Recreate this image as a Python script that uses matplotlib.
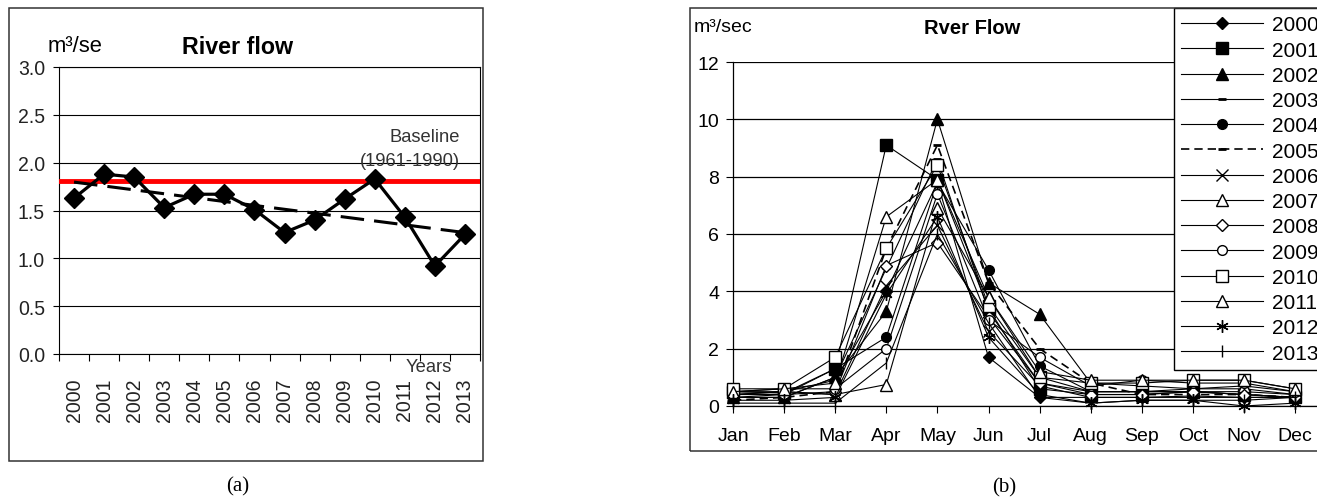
import numpy as np
import matplotlib
matplotlib.use("Agg")
import matplotlib.pyplot as plt
from matplotlib.patches import Rectangle
from matplotlib import font_manager

plt.rcParams['font.family'] = ['Liberation Sans', 'DejaVu Sans']

W, H = 1317, 502

# (a) annual river flow
years = ['2000', '2001', '2002', '2003', '2004', '2005', '2006',
         '2007', '2008', '2009', '2010', '2011', '2012', '2013']
annual_flow = [1.63, 1.88, 1.85, 1.53, 1.67, 1.67, 1.51,
               1.27, 1.40, 1.62, 1.83, 1.43, 0.92, 1.25]
baseline = 1.81

# (b) monthly river flow per year
months = ['Jan', 'Feb', 'Mar', 'Apr', 'May', 'Jun',
          'Jul', 'Aug', 'Sep', 'Oct', 'Nov', 'Dec']
flow_2000 = [0.4, 0.5, 0.9, 4.0, 7.8, 1.7, 0.3, 0.3, 0.3, 0.35, 0.3, 0.3]
flow_2001 = [0.5, 0.45, 1.3, 9.1, 7.9, 3.4, 0.6, 0.4, 0.4, 0.5, 0.4, 0.3]
flow_2002 = [0.3, 0.3, 1.0, 3.3, 10.0, 4.3, 3.2, 0.8, 0.7, 0.6, 0.6, 0.4]
flow_2003 = [0.3, 0.3, 1.0, 4.8, 8.6, 3.3, 0.8, 0.5, 0.5, 0.5, 0.5, 0.4]
flow_2004 = [0.3, 0.4, 1.3, 2.4, 7.8, 4.75, 1.4, 0.5, 0.5, 0.5, 0.4, 0.3]
flow_2005 = [0.2, 0.3, 0.5, 5.5, 9.1, 4.3, 2.0, 0.8, 0.4, 0.4, 0.4, 0.3]
flow_2006 = [0.4, 0.5, 0.4, 4.2, 6.3, 2.6, 0.7, 0.3, 0.3, 0.3, 0.3, 0.3]
flow_2007 = [0.5, 0.5, 0.4, 0.75, 6.9, 3.8, 1.0, 0.5, 0.5, 0.6, 0.7, 0.5]
flow_2008 = [0.4, 0.4, 0.5, 4.9, 5.7, 3.1, 0.8, 0.4, 0.4, 0.5, 0.4, 0.3]
flow_2009 = [0.5, 0.6, 0.6, 2.0, 7.4, 3.0, 1.7, 0.7, 0.9, 0.8, 0.8, 0.5]
flow_2010 = [0.6, 0.6, 1.7, 5.5, 8.4, 3.5, 1.0, 0.8, 0.8, 0.9, 0.9, 0.6]
flow_2011 = [0.5, 0.6, 0.8, 6.6, 7.9, 3.8, 1.2, 0.9, 0.9, 0.9, 0.9, 0.6]
flow_2012 = [0.2, 0.2, 0.3, 3.9, 6.6, 2.4, 0.4, 0.1, 0.2, 0.2, 0.0, 0.1]
flow_2013 = [0.1, 0.1, 0.1, 1.5, 6.0, 2.9, 0.3, 0.1, 0.2, 0.2, 0.2, 0.3]

monthly = [flow_2000, flow_2001, flow_2002, flow_2003, flow_2004, flow_2005, flow_2006,
           flow_2007, flow_2008, flow_2009, flow_2010, flow_2011, flow_2012, flow_2013]
styles = [
    dict(marker='D', mfc='black', ms=6),
    dict(marker='s', mfc='black', ms=8),
    dict(marker='^', mfc='black', ms=8),
    dict(marker='_', mfc='black', ms=6, mew=2),
    dict(marker='o', mfc='black', ms=7),
    dict(marker='_', mfc='black', ms=6, mew=2, ls=(0, (5, 3)), lw=1.2),
    dict(marker='x', mfc='white', ms=8),
    dict(marker='^', mfc='white', ms=8),
    dict(marker='D', mfc='white', ms=6),
    dict(marker='o', mfc='white', ms=7),
    dict(marker='s', mfc='white', ms=8),
    dict(marker='^', mfc='white', ms=8),
    dict(marker=(6, 2, 0), mfc='white', ms=9),
    dict(marker='|', mfc='white', ms=9),
]

# narrow face for panel (a), if present
names = {f.name for f in font_manager.fontManager.ttflist}
narrow = 'Liberation Sans Narrow' if 'Liberation Sans Narrow' in names else 'Liberation Sans'
nsz = 1.0 if narrow == 'Liberation Sans Narrow' else 0.88


def fx(px):
    return px / W


def fy(py):
    return 1 - py / H


fig = plt.figure(figsize=(W / 100, H / 100), dpi=100)

# outer frames
fig.add_artist(Rectangle((fx(9), fy(462)), fx(483) - fx(9), fy(9) - fy(462),
                         transform=fig.transFigure, fill=False, ec='#333333', lw=1.1))
fig.add_artist(Rectangle((fx(690), fy(452)), fx(1340) - fx(690), fy(9) - fy(452),
                         transform=fig.transFigure, fill=False, ec='#333333', lw=1.1))

# ---- panel (a)
ax1 = fig.add_axes([fx(59), fy(355), fx(480) - fx(59), fy(68) - fy(355)])
x = np.arange(len(years))
ax1.set_xlim(-0.5, len(years) - 0.5)
ax1.set_ylim(0, 3)
ax1.set_yticks(np.arange(0, 3.01, 0.5))
ax1.set_yticklabels([f'{v:.1f}' for v in np.arange(0, 3.01, 0.5)],
                    family=narrow, fontsize=16 * nsz, color='#222222')
ax1.grid(axis='y', color='black', lw=0.8)
ax1.set_xticks(x)
ax1.set_xticklabels(years, rotation=90, family=narrow, fontsize=16 * nsz, color='#222222')
ax1.set_xticks(np.arange(-0.5, len(years)), minor=True)
ax1.tick_params(axis='x', which='major', length=0, pad=17)
ax1.tick_params(axis='x', which='minor', length=5, direction='out', width=0.8)
ax1.tick_params(axis='y', length=4, width=0.8, pad=6)
for s in ax1.spines.values():
    s.set_linewidth(0.8)

ax1.axhline(baseline, color='#ff0000', lw=3.5, zorder=3)
coef = np.polyfit(x, annual_flow, 1)
ax1.plot(x, np.polyval(coef, x), color='black', lw=2.2, dashes=(7.7, 3.3), zorder=4)
ax1.plot(x, annual_flow, color='black', lw=2.3, marker='D', ms=10, zorder=5)

fig.text(fx(48), fy(47), 'm³/se', fontsize=18 * nsz, family=narrow, va='center', ha='left')
fig.text(fx(238), fy(47), 'River flow', fontsize=19 * nsz, family=narrow, fontweight='bold',
         va='center', ha='center')
fig.text(fx(460), fy(137), 'Baseline', fontsize=15 * nsz, family=narrow, color='#333333',
         va='center', ha='right')
fig.text(fx(460), fy(162), '(1961-1990)', fontsize=15 * nsz, family=narrow, color='#333333',
         va='center', ha='right')
fig.text(fx(429), fy(368), 'Years', fontsize=15 * nsz, family=narrow, color='#333333',
         va='center', ha='center')
fig.text(fx(238), fy(487), '(a)', fontsize=15, family='Liberation Serif', va='center', ha='center')

# ---- panel (b)
ax2 = fig.add_axes([fx(733), fy(407), 1 - fx(733), fy(63) - fy(407)])
mx = np.arange(len(months))
ax2.set_xlim(0, (W - 733) / 51.1)
ax2.set_ylim(0, 12)
ax2.set_yticks(np.arange(0, 13, 2))
ax2.set_xticks(mx)
ax2.set_xticklabels(months)
ax2.grid(axis='y', color='black', lw=0.9)
ax2.tick_params(axis='x', length=5, width=0.8, pad=10, labelsize=14)
ax2.tick_params(axis='y', length=5, width=0.8, pad=5, labelsize=14)
ax2.spines['top'].set_visible(False)
ax2.spines['right'].set_visible(False)
for s in ax2.spines.values():
    s.set_linewidth(0.9)

for yr, vals, st in zip(years, monthly, styles):
    st = dict(st)
    ls = st.pop('ls', '-')
    lw = st.pop('lw', 0.8)
    ax2.plot(mx, vals, color='black', mec='black', ls=ls, lw=lw, label=yr,
             clip_on=False, zorder=4, **st)

leg = ax2.legend(loc='upper left', bbox_to_anchor=(fx(1174), fy(9)),
                 bbox_transform=fig.transFigure, fontsize=15, frameon=True,
                 fancybox=False, edgecolor='black', framealpha=1, borderaxespad=0,
                 borderpad=0.35, labelspacing=0.3, handlelength=3.9, handletextpad=0.45)
leg.get_frame().set_linewidth(1.0)
leg.set_zorder(10)

fig.text(fx(694), fy(28), 'm³/sec', fontsize=14, va='center', ha='left')
fig.text(fx(972), fy(28), 'Rver Flow', fontsize=14.5, fontweight='bold', va='center', ha='center')
fig.text(fx(1004), fy(488), '(b)', fontsize=15, family='Liberation Serif', va='center', ha='center')

fig.savefig('out.png', dpi=100)
